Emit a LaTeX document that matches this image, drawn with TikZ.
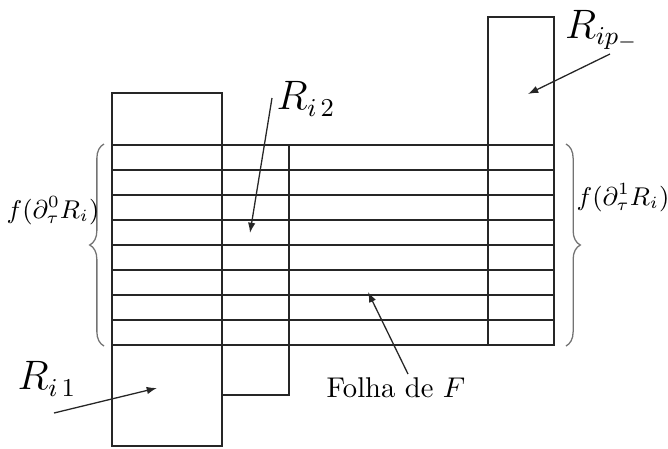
\documentclass[tikz,border=0pt]{standalone}
\usetikzlibrary{arrows.meta,decorations.pathreplacing}
\begin{document}
\begin{tikzpicture}[x=0.35pt,y=-0.35pt,
  ln/.style={line width=0.45pt,draw=black!85},
  arr/.style={line width=0.45pt,draw=black!85,-{Latex[length=3.6pt,width=2.6pt]}},
  brc/.style={draw=black!55,line width=0.45pt,decorate,decoration={brace,amplitude=5pt}},
  big/.style={font=\fontsize{13.5}{15}\selectfont,inner sep=0pt},
  small/.style={font=\fontsize{8.6}{10}\selectfont,inner sep=0pt}]
\useasboundingbox (0,0) rectangle (668,448);
% leaves
\foreach \k in {0,...,8}{
  \draw[ln] (112,{145+25*\k}) -- (554,{145+25*\k});
}
% boxes
\draw[ln] (112,93) rectangle (222,446);
\draw[ln] (222,145) rectangle (289,395);
\draw[ln] (488,17) rectangle (554,345);
% braces
\coordinate (lb1) at (104,346);
\coordinate (lb2) at (104,144);
\coordinate (rb1) at (566,144);
\coordinate (rb2) at (566,346);
\draw[brc] (lb1) -- (lb2);
\draw[brc] (rb1) -- (rb2);
\node[small] (f0) at (53,211) {$f(\partial^0_\tau R_i)$};
\node[small] (f1) at (623,198) {$f(\partial^1_\tau R_i)$};
% labels and arrows
\node[big] (ri1) at (47,379) {$R_{i\,1}$};
\node[big] (ri2) at (306,99) {$R_{i\,2}$};
\node[big] (rip) at (602,30) {$R_{ip_-}$};
\node[inner sep=0pt] (folha) at (396,388) {Folha de $F$};
\coordinate (a1s) at (54,413); \coordinate (a1e) at (157,388);
\coordinate (a2s) at (272,98); \coordinate (a2e) at (250,233);
\coordinate (a3s) at (610,54); \coordinate (a3e) at (528,94);
\coordinate (a4s) at (408,374); \coordinate (a4e) at (368,292);
\draw[arr] (a1s) -- (a1e);
\draw[arr] (a2s) -- (a2e);
\draw[arr] (a3s) -- (a3e);
\draw[arr] (a4s) -- (a4e);
\end{tikzpicture}
\end{document}
